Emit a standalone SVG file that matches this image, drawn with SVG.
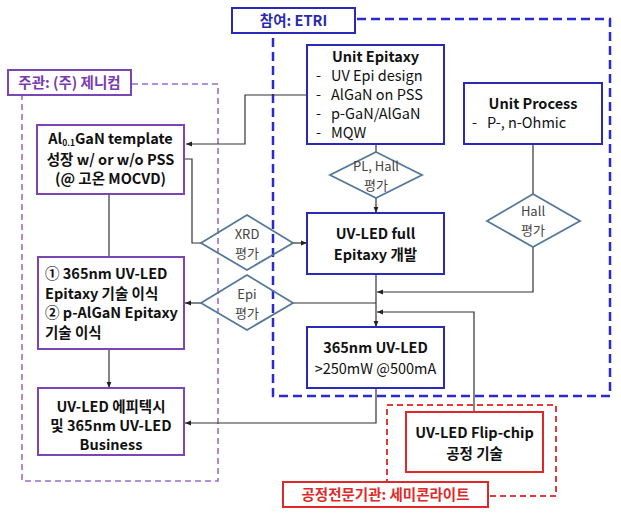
<svg xmlns="http://www.w3.org/2000/svg" width="621" height="518" viewBox="0 0 621 518">
<style>
text{font-family:"Noto Sans CJK KR","Noto Sans",sans-serif;font-size:14.5px;fill:#111}
.b{font-weight:bold}
.c{text-anchor:middle}
.d{font-size:13px;fill:#444;text-anchor:middle}
.pbox{fill:#fff;stroke:#7b45b5;stroke-width:2}
.bbox{fill:#fff;stroke:#2a2ab8;stroke-width:2}
.rbox{fill:#fff;stroke:#e02828;stroke-width:2}
.dia{fill:none;stroke:#56789a;stroke-width:1.8}
.conn{fill:none;stroke:#333;stroke-width:1.2}
</style>
<defs>
<marker id="ah" viewBox="0 0 10 10" refX="10" refY="5" markerWidth="6" markerHeight="6" orient="auto" markerUnits="userSpaceOnUse">
<path d="M0,1 L10,5 L0,9 z" fill="#222"/>
</marker>
</defs>

<g id="containers">
<rect x="22" y="84" width="196" height="397" fill="none" stroke="#9a6ad0" stroke-width="1.6" stroke-dasharray="6,4"/>
<rect x="273" y="19" width="337" height="377" fill="none" stroke="#2a2ad0" stroke-width="2.5" stroke-dasharray="9,5"/>
<rect x="387" y="405" width="169" height="91" fill="none" stroke="#e03a3a" stroke-width="2" stroke-dasharray="6,4"/>
</g>

<g id="label-genicom">
<rect x="8" y="70" width="123" height="25" class="pbox"/>
<text x="69.5" y="87.5" class="b c" style="fill:#7a3ab0">주관: (주) 제니컴</text>
</g>
<g id="label-etri">
<rect x="232" y="8" width="123" height="25" class="bbox"/>
<text x="293.5" y="26" class="b c" style="fill:#2a2ab0">참여: ETRI</text>
</g>
<g id="label-semicon">
<rect x="283" y="482" width="205" height="25" class="rbox"/>
<text x="385.5" y="500" class="b c" style="fill:#e02828">공정전문기관: 세미콘라이트</text>
</g>

<g id="connectors">
<polyline class="conn" points="307,95 245,95 245,144 186,144" marker-end="url(#ah)"/>
<polyline class="conn" points="184,159 192,159 192,243 201,243"/>
<line class="conn" x1="293" y1="243" x2="307" y2="243" marker-end="url(#ah)"/>
<line class="conn" x1="376" y1="144" x2="376" y2="152"/>
<line class="conn" x1="376" y1="198" x2="376" y2="213" marker-end="url(#ah)"/>
<line class="conn" x1="533" y1="144" x2="533" y2="194"/>
<polyline class="conn" points="533,247 533,292 377,292" marker-end="url(#ah)"/>
<polyline class="conn" points="474,412 474,312 377,312" marker-end="url(#ah)"/>
<line class="conn" x1="376" y1="274" x2="376" y2="327" marker-end="url(#ah)"/>
<line class="conn" x1="376" y1="303" x2="293" y2="303"/>
<line class="conn" x1="201" y1="303" x2="185" y2="303" marker-end="url(#ah)"/>
<line class="conn" x1="109" y1="194" x2="109" y2="257"/>
<line class="conn" x1="109" y1="349" x2="109" y2="388" marker-end="url(#ah)"/>
<polyline class="conn" points="376,388 376,423 185,423" marker-end="url(#ah)"/>
</g>

<g id="node-template">
<rect x="37" y="125" width="147" height="69" class="pbox"/>
<text x="110.5" y="144" class="b c">Al<tspan font-size="8.5" dy="1.5">0.1</tspan><tspan dy="-1.5">GaN template</tspan></text>
<text x="110.5" y="164.5" class="b c">성장 w/ or w/o PSS</text>
<text x="110.5" y="184" class="b c">(@ 고온 MOCVD)</text>
</g>

<g id="node-transfer">
<rect x="38" y="257" width="146" height="92" class="pbox"/>
<text x="45" y="279" class="b">① 365nm UV-LED</text>
<text x="45" y="298.5" class="b">Epitaxy 기술 이식</text>
<text x="45" y="318" class="b">② p-AlGaN Epitaxy</text>
<text x="45" y="337.5" class="b">기술 이식</text>
</g>

<g id="node-business">
<rect x="38" y="388" width="146" height="67" class="pbox"/>
<text x="111" y="412" class="b c">UV-LED 에피텍시</text>
<text x="111" y="431" class="b c">및 365nm UV-LED</text>
<text x="111" y="450" class="b c">Business</text>
</g>

<g id="node-unit-epitaxy">
<rect x="307" y="45" width="137" height="99" class="bbox"/>
<text x="375.5" y="62" class="b c">Unit Epitaxy</text>
<text x="316" y="81">-</text><text x="331" y="81">UV Epi design</text>
<text x="316" y="100">-</text><text x="331" y="100">AlGaN on PSS</text>
<text x="316" y="119">-</text><text x="331" y="119">p-GaN/AlGaN</text>
<text x="316" y="138">-</text><text x="331" y="138">MQW</text>
</g>

<g id="node-unit-process">
<rect x="464" y="83" width="138" height="61" class="bbox"/>
<text x="533" y="109" class="b c">Unit Process</text>
<text x="472" y="128">-</text><text x="487" y="128">P-, n-Ohmic</text>
</g>

<g id="node-full-epi">
<rect x="307" y="213" width="137" height="61" class="bbox"/>
<text x="375.5" y="239" class="b c">UV-LED full</text>
<text x="375.5" y="260" class="b c">Epitaxy 개발</text>
</g>

<g id="node-365">
<rect x="307" y="327" width="137" height="61" class="bbox"/>
<text x="375.5" y="353" class="b c">365nm UV-LED</text>
<text x="375.5" y="374" class="c">&gt;250mW  @500mA</text>
</g>

<g id="node-flipchip">
<rect x="406" y="412" width="137" height="60" class="rbox"/>
<text x="474.5" y="438" class="b c">UV-LED Flip-chip</text>
<text x="474.5" y="459" class="b c">공정 기술</text>
</g>

<g id="dia-pl">
<polygon class="dia" points="376,152 422,175 376,198 330,175"/>
<text x="376" y="171" class="d">PL, Hall</text>
<text x="376" y="190" class="d">평가</text>
</g>
<g id="dia-hall">
<polygon class="dia" points="533,194 580,221 533,247 487,221"/>
<text x="533" y="216" class="d">Hall</text>
<text x="533" y="235" class="d">평가</text>
</g>
<g id="dia-xrd">
<polygon class="dia" points="247,215 293,243 247,270 201,243"/>
<text x="247" y="239" class="d">XRD</text>
<text x="247" y="258" class="d">평가</text>
</g>
<g id="dia-epi">
<polygon class="dia" points="247,275 293,303 247,330 201,303"/>
<text x="247" y="299" class="d">Epi</text>
<text x="247" y="318" class="d">평가</text>
</g>
</svg>
